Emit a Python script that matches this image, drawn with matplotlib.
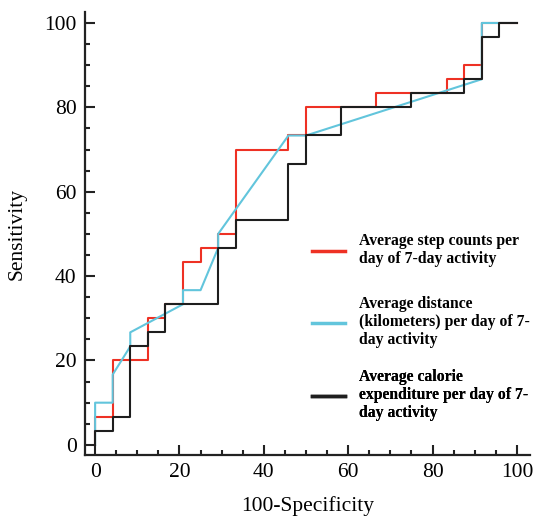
import matplotlib
matplotlib.use('Agg')
import matplotlib.pyplot as plt
from matplotlib.lines import Line2D

# ROC step curves (100-Specificity, Sensitivity)
step_x = [0, 0, 4.17, 4.17, 12.5, 12.5, 16.67, 16.67, 20.83, 20.83, 25, 25, 29.17, 29.17,
          33.33, 33.33, 45.83, 45.83, 50, 50, 66.67, 66.67, 83.33, 83.33, 87.5, 87.5,
          91.67, 91.67, 100]
step_y = [0, 6.67, 6.67, 20, 20, 30, 30, 33.33, 33.33, 43.33, 43.33, 46.67, 46.67, 50,
          50, 70, 70, 73.33, 73.33, 80, 80, 83.33, 83.33, 86.67, 86.67, 90,
          90, 100, 100]

dist_x = [0, 0, 4.17, 4.17, 8.33, 8.33, 20.83, 20.83, 25, 29.17, 29.17, 45.83, 50,
          91.67, 91.67, 100]
dist_y = [0, 10, 10, 16.67, 23.33, 26.67, 33.33, 36.67, 36.67, 46.67, 50, 73.33, 73.33,
          86.67, 100, 100]

cal_x = [0, 0, 4.17, 4.17, 8.33, 8.33, 12.5, 12.5, 16.67, 16.67, 29.17, 29.17, 33.33,
         33.33, 45.83, 45.83, 50, 50, 58.33, 58.33, 75, 75, 87.5, 87.5, 91.67, 91.67,
         95.83, 95.83, 100]
cal_y = [0, 3.33, 3.33, 6.67, 6.67, 23.33, 23.33, 26.67, 26.67, 33.33, 33.33, 46.67,
         46.67, 53.33, 53.33, 66.67, 66.67, 73.33, 73.33, 80, 80, 83.33, 83.33, 86.67,
         86.67, 96.67, 96.67, 100, 100]

labels = ['Average step counts per\nday of 7-day activity',
          'Average distance\n(kilometers) per day of 7-\nday activity',
          'Average calorie\nexpenditure per day of 7-\nday activity']
colors = ['#ee3124', '#62c5dc', '#1e1e1e']

plt.rcParams['font.family'] = ['Liberation Serif', 'DejaVu Serif']

fig = plt.figure(figsize=(5.35, 5.19), dpi=100)
ax = fig.add_axes([85 / 535, 1 - 455 / 519, 445 / 535, 443 / 519])

ax.plot(step_x, step_y, color=colors[0], lw=1.5, zorder=2)
ax.plot(dist_x, dist_y, color=colors[1], lw=1.5, zorder=3)
ax.plot(cal_x, cal_y, color=colors[2], lw=1.5, zorder=4)

ax.set_xlim(-2.4, 103.1)
ax.set_ylim(-2.4, 102.6)
ax.set_xticks(range(0, 101, 20))
ax.set_yticks(range(0, 101, 20))
ax.set_xticks(range(0, 101, 5), minor=True)
ax.set_yticks(range(0, 101, 5), minor=True)
ax.tick_params(which='major', direction='in', length=7, width=1.5, labelsize=15.5,
               color='#222222', pad=6)
ax.tick_params(which='minor', direction='in', length=3.5, width=1.5, color='#222222')
for s in ['top', 'right']:
    ax.spines[s].set_visible(False)
for s in ['left', 'bottom']:
    ax.spines[s].set_linewidth(1.6)
    ax.spines[s].set_color('#222222')

ax.set_xlabel('100-Specificity', fontsize=15.5, labelpad=10)
ax.set_ylabel('Sensitivity', fontsize=15.5, labelpad=13)

# legend entries placed one by one
centers = [250, 322, 395]
for lab, col, cy in zip(labels, colors, centers):
    h = Line2D([], [], color=col, lw=2.5)
    leg = ax.legend([h], [lab], loc='center left',
                    bbox_to_anchor=(312 / 535, 1 - cy / 519), bbox_transform=fig.transFigure,
                    frameon=False, borderpad=0, borderaxespad=0,
                    handlelength=2.1, handletextpad=0.9,
                    prop={'weight': 'bold', 'size': 11.3})
    ax.add_artist(leg)

fig.savefig('out.png', dpi=100)
